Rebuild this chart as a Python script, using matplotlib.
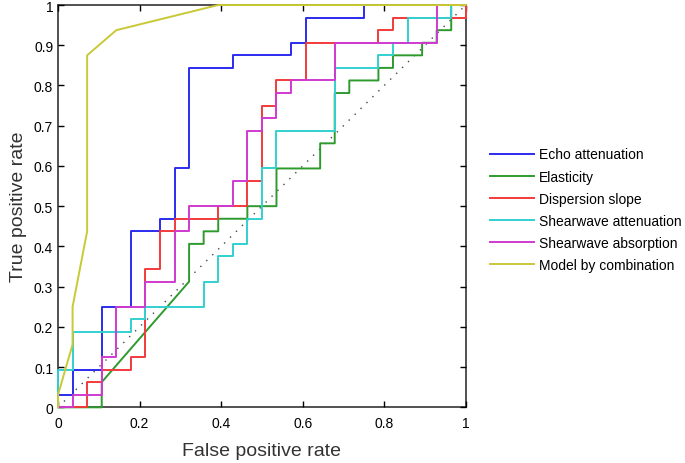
import numpy as np
import matplotlib.pyplot as plt

plt.rcParams['font.family'] = ['Liberation Sans', 'DejaVu Sans']

# ROC step curves, in counts
# (28 negatives along x, 32 positives along y)
n_neg = 28
n_pos = 32

echo_fp = [0, 0, 1, 1, 3, 3, 5, 5, 7, 7, 8, 8, 9, 9, 12, 12, 16, 16, 17, 17, 21, 21, 28]
echo_tp = [0, 1, 1, 3, 3, 8, 8, 14, 14, 15, 15, 19, 19, 27, 27, 28, 28, 29, 29, 31, 31, 32, 32]

elast_fp = [0, 3, 3, 9, 9, 10, 10, 11, 11, 13, 13, 15, 15, 18, 18, 19, 19, 20, 20,
            22, 22, 23, 23, 25, 25, 26, 26, 27, 27, 28]
elast_tp = [0, 0, 2, 10, 13, 13, 14, 14, 15, 15, 16, 16, 19, 19, 21, 21, 25, 25, 26,
            26, 27, 27, 28, 28, 29, 29, 30, 30, 32, 32]

disp_fp = [0, 2, 2, 3, 3, 5, 5, 6, 6, 7, 7, 8, 8, 11, 11, 13, 13, 14, 14, 15, 15,
           17, 17, 22, 22, 23, 23, 28, 28]
disp_tp = [0, 0, 2, 2, 3, 3, 4, 4, 11, 11, 14, 14, 15, 15, 16, 16, 18, 18, 24, 24, 26,
           26, 29, 29, 30, 30, 31, 31, 32]

swatt_fp = [0, 0, 1, 1, 5, 5, 6, 6, 10, 10, 11, 11, 12, 12, 13, 13, 14, 14, 15, 15,
            19, 19, 22, 22, 23, 23, 24, 24, 27, 27, 28]
swatt_tp = [0, 3, 3, 6, 6, 7, 7, 8, 8, 10, 10, 12, 12, 13, 13, 15, 15, 19, 19, 22,
            22, 27, 27, 28, 28, 29, 29, 31, 31, 32, 32]

swabs_fp = [0, 1, 1, 3, 3, 4, 4, 6, 6, 8, 8, 9, 9, 12, 12, 13, 13, 14, 14, 15, 15,
            16, 16, 19, 19, 26, 26, 28]
swabs_tp = [0, 0, 1, 1, 4, 4, 8, 8, 10, 10, 14, 14, 16, 16, 18, 18, 22, 22, 23, 23, 25,
            25, 26, 26, 29, 29, 32, 32]

comb_fp = [0, 0, 1, 1, 2, 2, 4, 11, 28]
comb_tp = [0, 1, 5, 8, 14, 28, 30, 32, 32]

curves = [
    ("Echo attenuation", echo_fp, echo_tp, "#2b2bef"),
    ("Elasticity", elast_fp, elast_tp, "#2e9a2e"),
    ("Dispersion slope", disp_fp, disp_tp, "#f23a3a"),
    ("Shearwave attenuation", swatt_fp, swatt_tp, "#33d0d0"),
    ("Shearwave absorption", swabs_fp, swabs_tp, "#cf3acf"),
    ("Model by combination", comb_fp, comb_tp, "#c9c935"),
]

fig = plt.figure(figsize=(6.85, 4.64), dpi=100)
ax = fig.add_axes([0.0847, 0.12, 0.5953, 0.867])

ax.plot([0, 1], [0, 1], color="#444455", ls=(0, (1, 5)), lw=1.0)
for name, fp, tp, col in curves:
    ax.plot(np.array(fp) / n_neg, np.array(tp) / n_pos, color=col, lw=1.4,
            label=name, clip_on=False)

ax.set_xlim(0, 1)
ax.set_ylim(0, 1)
ax.set_xticks([0, 0.2, 0.4, 0.6, 0.8, 1])
ax.set_xticklabels(["0", "0.2", "0.4", "0.6", "0.8", "1"])
ax.set_yticks(np.arange(0, 1.01, 0.1))
ax.set_yticklabels(["0", "0.1", "0.2", "0.3", "0.4", "0.5", "0.6", "0.7", "0.8", "0.9", "1"])
ax.tick_params(axis="x", pad=6)
ax.tick_params(direction="in", top=True, right=True, length=4, width=1,
               labelsize=10)
for s in ax.spines.values():
    s.set_linewidth(1.2)
    s.set_color("#333333")
    s.set_zorder(1)

ax.set_xlabel("False positive rate", fontsize=14, color="#333333", labelpad=9)
ax.set_ylabel("True positive rate", fontsize=14, color="#333333", labelpad=5)

fig.legend(loc="upper left", bbox_to_anchor=(0.716, 0.680), frameon=False,
           fontsize=10, handlelength=3.1, handletextpad=0.4, labelspacing=0.58,
           borderpad=0, borderaxespad=0)

fig.savefig("out.png", dpi=100)
